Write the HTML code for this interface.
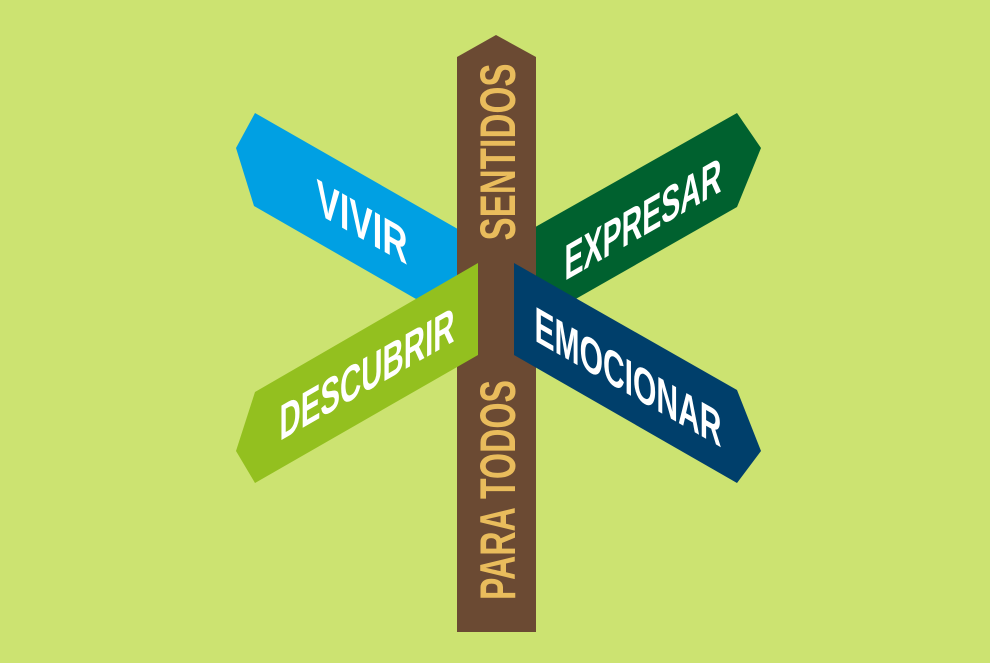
<!DOCTYPE html>
<html><head><meta charset="utf-8"><style>
html,body{margin:0;padding:0;background:#cce371;}
svg{display:block}
text{font-family:"Liberation Sans",sans-serif;font-weight:bold;}
</style></head><body>
<svg width="990" height="663" viewBox="0 0 990 663" xmlns="http://www.w3.org/2000/svg">
<rect width="990" height="663" fill="#cce371"/>
<polygon points="255,113 236,148 254,206 470,330 470,236" fill="#00a0e3"/>
<polygon points="530,230 737,113 761,148 737,207 530,325" fill="#00612f"/>
<polygon points="496,35 536,57 536,632 457,632 457,57" fill="#6b4a33"/>
<polygon points="478,263 478,355 255,483 236,451 255,392" fill="#93c01f"/>
<polygon points="514,263 737,390 761,451 737,483 514,355" fill="#003f6b"/>
<g fill="#e9bc5c" font-size="50">
<text transform="translate(497,152) rotate(-90)" text-anchor="middle" dy="0.36em" textLength="177" lengthAdjust="spacingAndGlyphs">SENTIDOS</text>
<text transform="translate(497,490) rotate(-90)" text-anchor="middle" dy="0.36em" textLength="220" lengthAdjust="spacingAndGlyphs">PARA TODOS</text>
</g>
<g fill="#ffffff" font-size="50">
<text transform="translate(362,221) skewY(29.8)" text-anchor="middle" dy="0.36em" textLength="91" lengthAdjust="spacingAndGlyphs">VIVIR</text>
<text transform="translate(367,373) skewY(-29.8)" text-anchor="middle" dy="0.36em" textLength="175" lengthAdjust="spacingAndGlyphs">DESCUBRIR</text>
<text transform="translate(643,218) skewY(-29.8)" text-anchor="middle" dy="0.36em" textLength="157" lengthAdjust="spacingAndGlyphs">EXPRESAR</text>
<text transform="translate(628,376) skewY(29.8)" text-anchor="middle" dy="0.36em" textLength="187" lengthAdjust="spacingAndGlyphs">EMOCIONAR</text>
</g>
</svg>
</body></html>
